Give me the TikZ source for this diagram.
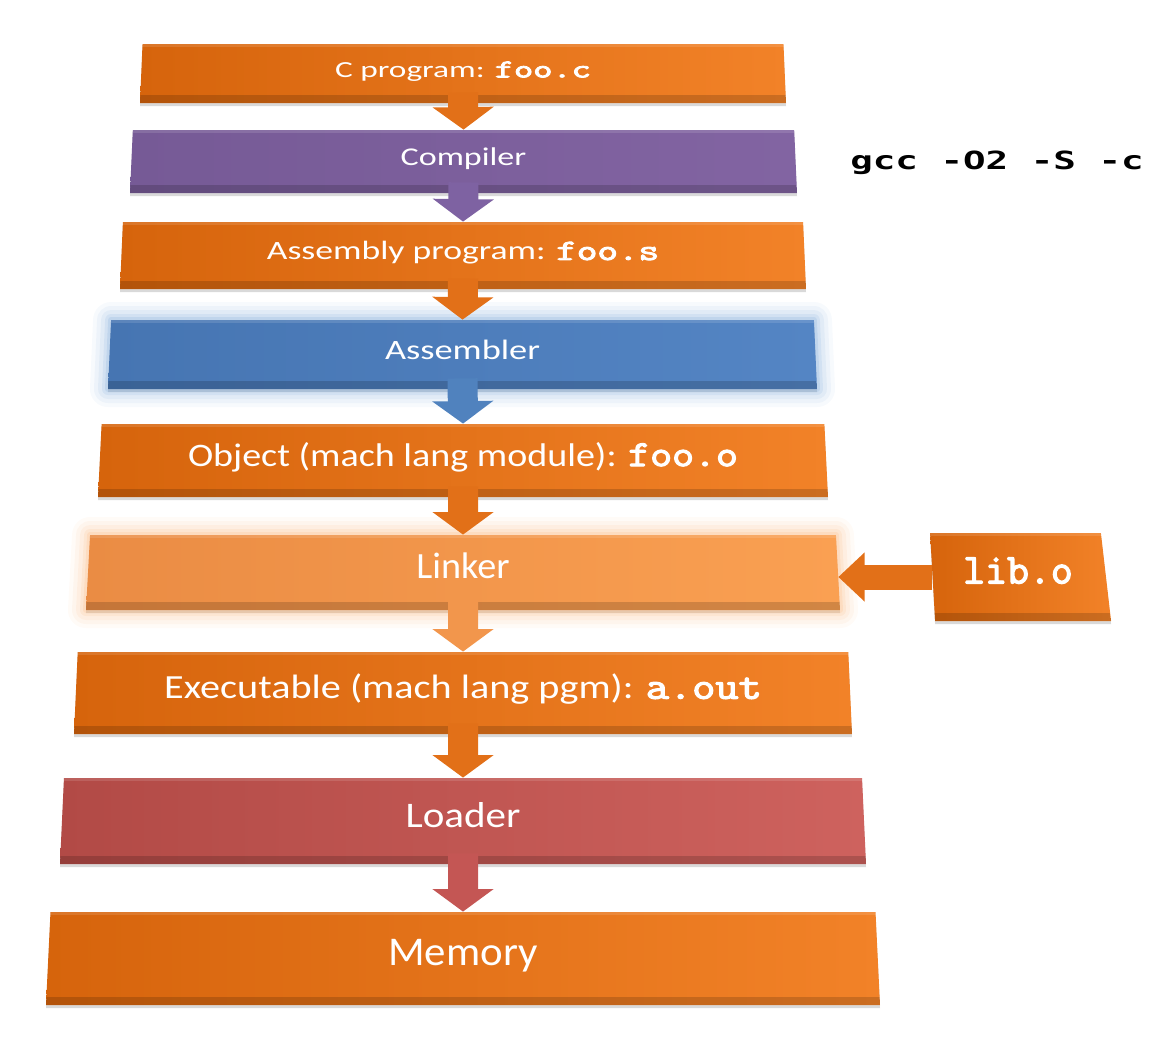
\documentclass[tikz,border=0pt]{standalone}
\usepackage{fontspec}
\setmainfont{Carlito}
\newfontfamily\codefont{Latin Modern Mono}[Scale=1.12, FakeBold=3]
\newfontfamily\gccfont{DejaVu Sans Mono}
\usetikzlibrary{arrows.meta,shapes.geometric,shadows}

\definecolor{orgL}{RGB}{214,100,12}
\definecolor{orgR}{RGB}{242,130,40}
\definecolor{orgA}{RGB}{226,112,24}
\definecolor{purL}{RGB}{118,90,150}
\definecolor{purR}{RGB}{130,100,162}
\definecolor{purA}{RGB}{126,98,162}
\definecolor{bluL}{RGB}{70,117,178}
\definecolor{bluR}{RGB}{84,133,196}
\definecolor{bluA}{RGB}{80,130,190}
\definecolor{bluG}{RGB}{120,165,215}
\definecolor{lnkL}{RGB}{234,140,68}
\definecolor{lnkR}{RGB}{250,160,82}
\definecolor{lnkA}{RGB}{242,150,76}
\definecolor{lnkG}{RGB}{250,180,120}
\definecolor{redL}{RGB}{178,74,70}
\definecolor{redR}{RGB}{206,98,94}
\definecolor{redA}{RGB}{196,86,84}

\newcommand{\fname}[1]{{\codefont #1}}
\newcommand{\wide}[2]{\rule[-0.46em]{0pt}{1.26em}\scalebox{#1}[1]{#2}}

\begin{document}
\begin{tikzpicture}[
x=0.5pt, y=-0.5pt,
fs/.style={font=\fontsize{#1}{#1}\selectfont},
box/.style={trapezium, trapezium angle=85, trapezium stretches body, inner sep=0pt, text=white,
  drop shadow={shadow xshift=0pt, shadow yshift=-1.5pt, opacity=.3},
  path picture={
    \fill[black, opacity=.16] ([yshift=4pt]path picture bounding box.south west) rectangle (path picture bounding box.south east);
    \fill[white, opacity=.12] (path picture bounding box.north west) rectangle ([yshift=-1.5pt]path picture bounding box.north east);
  }},
orangebox/.style={box, left color=orgL, right color=orgR},
purplebox/.style={box, left color=purL, right color=purR},
bluebox/.style={box, left color=bluL, right color=bluR},
linkbox/.style={box, left color=lnkL, right color=lnkR},
redbox/.style={box, left color=redL, right color=redR},
glow/.style={preaction={draw=#1, line width=18pt, opacity=.06, line join=round},
  preaction={draw=#1, line width=14pt, opacity=.08, line join=round},
  preaction={draw=#1, line width=10pt, opacity=.1, line join=round},
  preaction={draw=#1, line width=6pt, opacity=.14, line join=round},
  preaction={draw=#1, line width=3pt, opacity=.2, line join=round}},
darr/.style={line width=15pt, -{Triangle[length=0pt 0.75, width=0pt 2]}},
larr/.style={line width=12.5pt, -{Triangle[length=0pt 1.05, width=0pt 1.9]}}
]
\useasboundingbox (0,0) rectangle (1169,1049);

\node[orangebox, fs=11.5, minimum width=323pt, minimum height=29.5pt] (cprog) at (463,73.5) {\wide{1.45}{C program: \fname{foo.c}}};
\node[purplebox, fs=12.8, minimum width=333.5pt, minimum height=31.5pt] (compiler) at (463.5,161.5) {\wide{1.33}{Compiler}};
\node[orangebox, fs=13.2, minimum width=343pt, minimum height=33.5pt] (asmprog) at (463,255.5) {\wide{1.35}{Assembly program: \fname{foo.s}}};
\node[bluebox, glow=bluG, fs=14, minimum width=354.5pt, minimum height=34.5pt] (assembler) at (462.5,354.5) {\wide{1.3}{Assembler}};
\node[orangebox, fs=16.4, minimum width=365pt, minimum height=36.5pt] (object) at (463,460.5) {\wide{1.16}{Object (mach lang module): \fname{foo.o}}};
\node[linkbox, glow=lnkG, fs=18.5, minimum width=377pt, minimum height=37.5pt] (linker) at (463,572.5) {\wide{1.03}{Linker}};
\node[orangebox, fs=16.9, minimum width=389pt, minimum height=41pt] (exe) at (463,693) {\wide{1.19}{Executable (mach lang pgm): \fname{a.out}}};
\node[redbox, fs=18, minimum width=403pt, minimum height=43pt] (loader) at (463,821) {\wide{1.14}{Loader}};
\node[orangebox, fs=20.4, minimum width=417pt, minimum height=46.5pt] (memory) at (463,958.5) {\wide{1.05}{Memory}};

\node[orangebox, trapezium left angle=96, trapezium right angle=78, fs=19, minimum width=90.5pt, minimum height=44pt] (lib) at (1018,577) {\wide{1}{\fname{lib.o}}};
\node[fs=12.5] (gcc) at (997,163) {\gccfont\bfseries\scalebox{1.5}[1]{gcc -O2 -S -c}};

\draw[darr, draw=orgA] ([yshift=5.5pt]cprog.south) -- (compiler.north);
\draw[darr, draw=purA] ([yshift=5.5pt]compiler.south) -- (asmprog.north);
\draw[darr, draw=orgA] ([yshift=5.5pt]asmprog.south) -- (assembler.north);
\draw[darr, draw=bluA] ([yshift=5.5pt]assembler.south) -- (object.north);
\draw[darr, draw=orgA] ([yshift=5.5pt]object.south) -- (linker.north);
\draw[darr, draw=lnkA] ([yshift=5.5pt]linker.south) -- (exe.north);
\draw[darr, draw=orgA] ([yshift=5.5pt]exe.south) -- (loader.north);
\draw[darr, draw=redA] ([yshift=5.5pt]loader.south) -- (memory.north);
\draw[larr, draw=orgA] (lib.west) -- (lib.west -| linker.east);
\end{tikzpicture}
\end{document}
